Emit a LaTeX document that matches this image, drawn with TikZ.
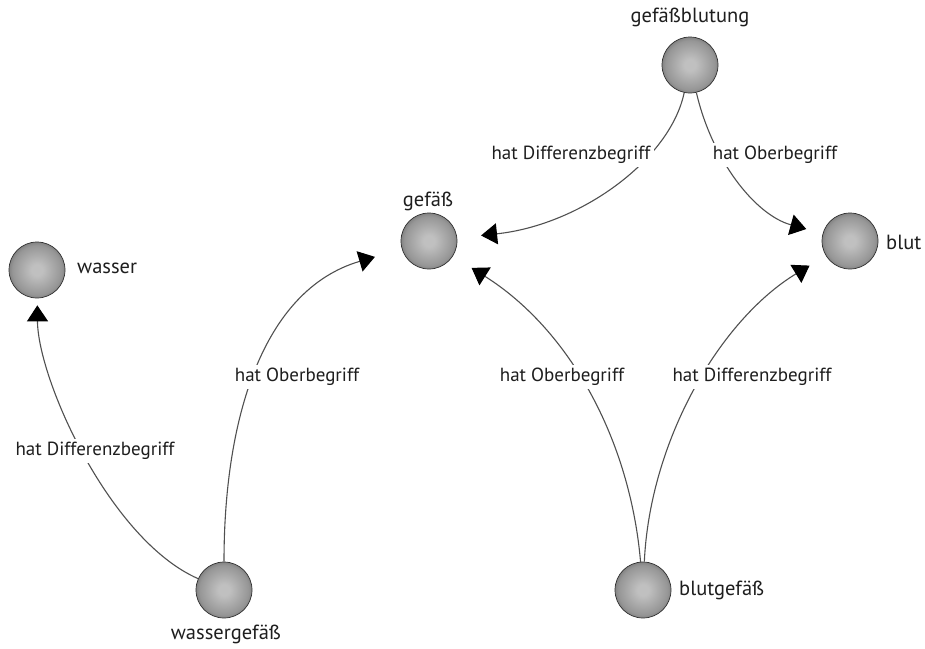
\documentclass[tikz,border=0pt]{standalone}
\usepackage{fontspec}
\setmainfont{PT Sans}
\usetikzlibrary{arrows.meta}
\definecolor{sphin}{RGB}{192,192,192}
\definecolor{sphmid}{RGB}{150,150,150}
\definecolor{sphout}{RGB}{70,70,70}
\definecolor{edgecol}{RGB}{80,80,80}
\definecolor{txt}{RGB}{30,30,30}
\pgfdeclareradialshading{sphere}{\pgfpoint{0bp}{0bp}}{color(0bp)=(sphin); color(5bp)=(sphin); color(22bp)=(sphmid); color(31bp)=(sphout!70!sphmid); color(36bp)=(sphout); color(50bp)=(sphout)}
\tikzset{
  ball/.style={circle, minimum size=56pt, inner sep=0pt, shading=sphere, draw=sphout!70!black, line width=0.7pt},
  nlabel/.style={font=\fontsize{20.5}{24}\selectfont, text=txt, inner sep=1pt},
  elabel/.style={font=\fontsize{19}{22}\selectfont, text=txt, fill=white, inner sep=3pt},
  rel/.style={draw=edgecol, line width=1.1pt, -{Triangle[length=16pt,width=21pt,fill=black,color=black]}}
}
\begin{document}
\begin{tikzpicture}[x=1pt,y=-1pt]
\useasboundingbox[fill=white] (0,0) rectangle (925,648);
% nodes
\node[ball] (w) at (37,270) {};
\node[ball] (wg) at (224,590) {};
\node[ball] (g) at (429,241) {};
\node[ball] (gb) at (690,65) {};
\node[ball] (b) at (850,241) {};
\node[ball] (bg) at (643,590) {};
% node labels
\node[nlabel, anchor=west] (tw) at (76,268) {wasser};
\node[nlabel] (twg) at (226,634) {wassergefäß};
\node[nlabel] (tg) at (428,201) {gefäß};
\node[nlabel] (tgb) at (690,17) {gefäßblutung};
\node[nlabel, anchor=west] (tb) at (885,242) {blut};
\node[nlabel, anchor=west] (tbg) at (678,590) {blutgefäß};
% connectors
\draw[rel, shorten >=7pt] (wg) .. controls (110,540) and (38,380) .. (w);
\draw[rel, shorten >=28pt] (wg) .. controls (224,420) and (262,290) .. (g);
\draw[rel, shorten >=24pt] (gb) .. controls (670,160) and (580,225) .. (g);
\draw[rel, shorten >=17pt] (gb) .. controls (712,160) and (755,215) .. (b);
\draw[rel, shorten >=22pt] (bg) .. controls (630,440) and (570,330) .. (g);
\draw[rel, shorten >=19pt] (bg) .. controls (650,440) and (720,320) .. (b);
% connector labels
\node[elabel] (l1) at (95,451) {hat Differenzbegriff};
\node[elabel] (l2) at (297,377) {hat Oberbegriff};
\node[elabel] (l3) at (571,155) {hat Differenzbegriff};
\node[elabel] (l4) at (775,155) {hat Oberbegriff};
\node[elabel] (l5) at (562,377) {hat Oberbegriff};
\node[elabel] (l6) at (752,377) {hat Differenzbegriff};
\end{tikzpicture}
\end{document}
